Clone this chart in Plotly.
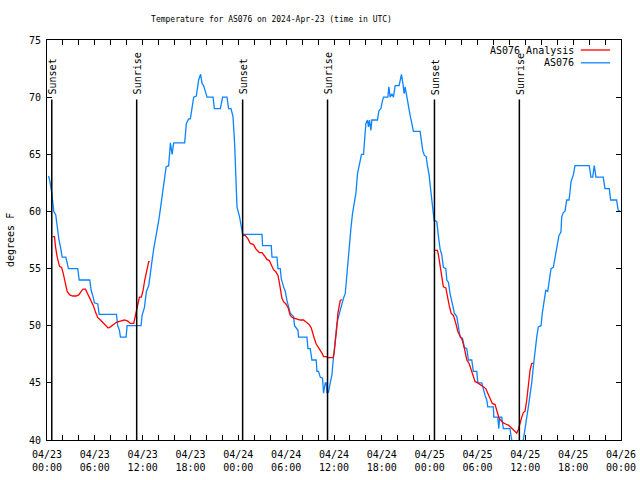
import plotly.graph_objects as go

# ---------------- data ----------------
title_text = "Temperature for AS076 on 2024-Apr-23 (time in UTC)"
y_title = "degrees F"
obs_name = "AS076"
ana_name = "AS076 Analysis"

# observed station temperature (hours after 2024-04-23 00:00 UTC, deg F)
obs_hours = [
    0.19, 0.35, 0.60, 0.69, 0.85, 1.10, 1.28, 1.48, 1.69, 1.82, 1.90, 2.36, 2.53, 2.69,
    3.86, 4.04, 5.36, 5.54, 5.79, 5.95, 6.37, 6.54, 8.71, 8.87, 9.09, 9.21, 9.92, 10.05,
    11.80, 11.93, 12.22, 12.47, 12.76, 12.97, 13.18, 13.38, 13.60, 13.81, 14.01, 14.22,
    14.64, 14.94, 15.26, 15.48, 15.69, 15.89, 17.27, 17.48, 17.77, 17.98, 18.40, 18.73,
    19.02, 19.27, 19.45, 19.65, 19.99, 20.08, 20.83, 20.99, 21.74, 22.03, 22.58, 22.78,
    23.08, 23.33, 23.53, 23.71, 23.83, 24.16, 24.46, 24.54, 26.97, 27.04, 28.13, 28.22,
    28.85, 28.97, 29.26, 29.39, 29.67, 29.89, 30.10, 30.30, 30.51, 30.93, 31.05, 31.48,
    31.55, 32.61, 32.73, 33.02, 33.23, 33.77, 33.86, 34.06, 34.27, 34.56, 34.69, 34.90,
    35.03, 35.11, 35.31, 35.53, 35.74, 35.86, 36.03, 36.15, 36.37, 36.57, 36.78, 36.99,
    37.19, 37.41, 37.62, 37.82, 38.12, 38.32, 38.53, 38.75, 38.95, 39.20, 39.45, 39.70,
    39.82, 40.00, 40.20, 40.33, 40.45, 40.63, 40.75, 41.45, 41.63, 41.88, 42.08, 42.21,
    42.76, 42.88, 43.05, 43.26, 43.46, 43.58, 43.67, 44.17, 44.30, 44.46, 44.64, 44.80,
    44.92, 45.05, 45.21, 45.34, 45.55, 45.76, 45.96, 46.80, 46.93, 47.14, 47.34, 47.56,
    47.72, 47.93, 48.06, 48.22, 48.40, 48.56, 48.68, 48.90, 49.10, 49.31, 49.52, 49.72,
    50.03, 50.15, 50.35, 50.56, 50.85, 51.10, 51.40, 51.60, 51.82, 52.11, 52.36, 52.66,
    52.86, 53.28, 53.48, 53.91, 54.04, 54.54, 54.74, 54.95, 55.16, 55.29, 55.99, 56.05,
    56.54, 56.67, 56.79, 57.04, 57.24, 58.08, 58.21, 58.46, 59.09, 59.59, 59.75, 59.96,
    60.18, 60.38, 60.59, 60.80, 61.00, 61.22, 61.43, 61.63, 61.97, 62.13, 62.38, 62.56,
    62.81, 62.97, 63.22, 63.51, 63.72, 63.93, 64.22, 64.47, 64.56, 64.76, 64.97, 65.19,
    65.48, 65.60, 65.73, 66.02, 66.23, 68.02, 68.23, 68.45, 68.65, 68.86, 69.77, 69.99,
    70.53, 70.70, 71.45, 71.65, 71.87,
]
obs_temp = [
    63.1, 62.7, 61.6, 61.0, 60.0, 59.7, 58.6, 57.6, 56.9, 56.4, 56.0, 56.0, 55.5, 55.0,
    55.0, 54.0, 54.0, 53.1, 52.5, 52.0, 51.9, 51.0, 51.0, 50.0, 49.6, 49.0, 49.0, 50.0,
    50.0, 50.9, 51.6, 53.0, 53.5, 54.8, 55.7, 56.7, 57.5, 58.3, 59.2, 60.2,
    62.4, 63.9, 64.0, 66.0, 65.0, 66.0, 66.0, 67.7, 68.1, 68.1, 70.0, 70.1,
    71.5, 72.0, 71.2, 71.0, 70.2, 70.0, 70.0, 69.0, 69.0, 70.0, 70.0, 69.0,
    69.0, 68.3, 66.0, 62.7, 60.4, 59.5, 58.3, 58.0, 58.0, 57.0, 57.0, 56.0,
    56.0, 55.0, 55.0, 54.1, 53.4, 53.0, 52.2, 51.5, 51.1, 50.8, 50.0, 49.6,
    49.0, 49.0, 48.0, 48.0, 47.0, 47.0, 46.0, 46.0, 45.5, 45.4, 44.1, 45.0,
    45.0, 44.1, 44.2, 45.0, 45.7, 46.7, 48.1, 49.0, 50.2, 50.8, 51.4, 52.0,
    52.4, 52.8, 54.6, 56.3, 58.5, 59.8, 60.7, 61.6, 63.3, 64.2, 65.0, 65.0,
    66.5, 67.7, 68.0, 67.4, 68.0, 67.1, 68.0, 68.0, 68.8, 69.0, 69.7, 70.0,
    70.0, 70.9, 70.0, 70.3, 70.0, 70.9, 71.0, 71.0, 71.6, 72.0, 71.2, 70.3,
    70.9, 70.3, 70.0, 69.1, 68.4, 67.7, 67.0, 67.0, 66.2, 65.3, 64.9, 64.8,
    64.0, 63.2, 62.3, 61.4, 60.4, 59.2, 59.2, 59.1, 57.8, 56.7, 56.2, 55.1,
    55.0, 54.0, 53.8, 52.8, 51.9, 51.1, 50.8, 50.0, 49.0, 48.9, 48.1, 48.0,
    47.0, 47.0, 46.0, 46.0, 45.0, 45.0, 44.4, 43.9, 43.5, 42.9, 42.9, 42.0,
    42.0, 41.0, 42.0, 42.0, 41.0, 41.0, 40.3, 39.5, 39.3, 39.6, 40.0, 41.2,
    42.0, 42.9, 43.8, 45.0, 46.4, 47.9, 49.0, 49.9, 50.0, 51.1, 52.5, 53.1,
    53.0, 54.0, 55.0, 55.1, 56.0, 57.0, 57.9, 58.2, 59.5, 59.9, 60.0, 61.0,
    61.0, 61.7, 62.6, 63.2, 64.0, 64.0, 63.0, 63.0, 64.0, 63.0, 63.0, 62.0,
    62.0, 61.0, 61.0, 60.1, 60.0,
]

# analysis temperature, three overnight segments
ana1_hours = [0.69, 0.94, 1.07, 1.28, 1.57, 1.82, 2.03, 2.32, 2.53, 2.86, 3.23, 3.66, 3.98,
              4.29, 4.54, 4.82, 5.11, 5.45, 5.79, 6.08, 6.37, 6.70, 6.99, 7.33, 7.67, 7.96,
              8.30, 8.71, 9.21, 9.71, 10.13, 10.46, 10.88, 11.09, 11.30, 11.59, 11.84, 12.05,
              12.26, 12.56, 12.76, 12.88]
ana1_temp = [57.8, 57.8, 56.9, 56.0, 55.2, 55.1, 54.6, 53.5, 53.0, 52.7, 52.6, 52.6, 52.7,
             53.0, 53.2, 53.2, 52.8, 52.2, 51.8, 51.2, 50.7, 50.5, 50.3, 50.0, 49.8, 49.9,
             50.1, 50.3, 50.4, 50.5, 50.4, 50.2, 50.2, 50.8, 51.6, 52.5, 52.5, 53.1,
             54.0, 55.1, 55.6, 55.6]
ana2_hours = [24.54, 24.87, 25.21, 25.50, 25.91, 26.22, 26.63, 26.97, 27.29, 27.59, 27.88,
              28.13, 28.42, 28.72, 28.97, 29.14, 29.35, 29.47, 29.67, 29.97, 30.23, 30.39,
              30.51, 30.80, 31.23, 31.77, 32.18, 32.48, 32.89, 33.15, 33.31, 33.52, 33.77,
              34.06, 34.27, 34.49, 34.69, 34.99, 35.31, 35.65, 35.90, 36.03, 36.15, 36.24,
              36.37, 36.49, 36.65, 36.78, 36.99]
ana2_temp = [57.9, 57.9, 57.6, 57.2, 57.1, 56.7, 56.4, 56.4, 56.1, 55.8, 55.7,
             55.3, 54.9, 54.7, 54.4, 53.8, 53.1, 52.4, 52.1, 51.9, 51.6, 51.2,
             50.9, 50.7, 50.6, 50.5, 50.5, 50.3, 50.1, 49.8, 49.3, 48.9, 48.4,
             48.1, 47.9, 47.6, 47.3, 47.3, 47.2, 47.2, 47.2, 47.7, 48.4, 49.3,
             50.0, 51.1, 51.8, 52.2, 52.3]
ana3_hours = [48.60, 48.97, 49.10, 49.31, 49.52, 49.72, 50.03, 50.23, 50.44, 50.69, 50.98,
              51.28, 51.53, 51.82, 52.11, 52.36, 52.66, 52.95, 53.20, 53.48, 53.70, 54.04,
              54.45, 54.74, 55.04, 55.29, 55.58, 55.86, 56.20, 56.42, 56.70, 56.95, 57.24,
              57.54, 57.87, 58.21, 58.50, 58.71, 58.92, 59.12, 59.25, 59.55, 59.75, 59.96,
              60.18, 60.38, 60.59, 60.80, 61.00]
ana3_temp = [56.6, 56.6, 56.2, 55.1, 54.1, 53.4, 53.3, 52.5, 51.8, 51.1, 50.9,
             50.2, 49.5, 49.1, 48.7, 48.0, 47.0, 46.7, 46.1, 45.5, 45.1, 45.0,
             44.8, 44.6, 44.5, 44.1, 43.6, 43.2, 43.1, 42.5, 41.9, 41.7, 41.5,
             41.4, 41.3, 41.1, 40.9, 40.7, 40.6, 40.9, 41.3, 42.0, 42.4, 42.5,
             43.5, 44.6, 46.1, 46.7, 46.7]

sunset_hours = [0.6, 24.54, 48.6]
sunrise_hours = [11.25, 35.19, 59.25]
sun_line_top = 69.8
sun_label_base = 70.04

x_tick_hours = list(range(0, 73, 2))
x_major_labels = {
    0: "04/23<br>00:00", 6: "04/23<br>06:00", 12: "04/23<br>12:00", 18: "04/23<br>18:00",
    24: "04/24<br>00:00", 30: "04/24<br>06:00", 36: "04/24<br>12:00", 42: "04/24<br>18:00",
    48: "04/25<br>00:00", 54: "04/25<br>06:00", 60: "04/25<br>12:00", 66: "04/25<br>18:00",
    72: "04/26<br>00:00",
}
y_ticks = [40, 45, 50, 55, 60, 65, 70, 75]

# ---------------- figure ----------------
FONT = "DejaVu Sans Mono"
BLUE = "#0a84ff"
RED = "#ff0000"

ana_x = ana1_hours + [None] + ana2_hours + [None] + ana3_hours
ana_y = ana1_temp + [None] + ana2_temp + [None] + ana3_temp

fig = go.Figure()
fig.add_trace(go.Scatter(x=obs_hours, y=obs_temp, mode="lines", name=obs_name,
                         line=dict(color=BLUE, width=1.3), showlegend=False))
fig.add_trace(go.Scatter(x=ana_x, y=ana_y, mode="lines", name=ana_name,
                         line=dict(color=RED, width=1.3), showlegend=False,
                         connectgaps=False))

shapes = []
annotations = []
for h in sunset_hours + sunrise_hours:
    shapes.append(dict(type="line", xref="x", yref="y", x0=h, x1=h, y0=40, y1=sun_line_top,
                       line=dict(color="black", width=1.5)))
for h in sunset_hours:
    annotations.append(dict(x=h, y=sun_label_base, xref="x", yref="y", text="Sunset",
                            textangle=-90, showarrow=False, xanchor="center", yanchor="bottom",
                            xshift=1, font=dict(family=FONT, size=10, color="black")))
for h in sunrise_hours:
    annotations.append(dict(x=h, y=sun_label_base, xref="x", yref="y", text="Sunrise",
                            textangle=-90, showarrow=False, xanchor="center", yanchor="bottom",
                            xshift=1, font=dict(family=FONT, size=10, color="black")))

# manual gnuplot-style legend (text then sample line)
legend_items = [(ana_name, RED, 0.975), (obs_name, BLUE, 0.943)]
for name, col, yp in legend_items:
    annotations.append(dict(x=0.921, y=yp, xref="paper", yref="paper", text=name,
                            showarrow=False, xanchor="right", yanchor="middle",
                            font=dict(family=FONT, size=10, color="black")))
    shapes.append(dict(type="line", xref="paper", yref="paper", x0=0.930, x1=0.981,
                       y0=yp, y1=yp, line=dict(color=col, width=1.3)))

# y axis title placed like gnuplot's
annotations.append(dict(x=(10 - 47) / 574.0, y=0.5, xref="paper", yref="paper", text=y_title,
                        textangle=-90, showarrow=False, xanchor="center", yanchor="middle",
                        font=dict(family=FONT, size=10, color="black")))

fig.update_layout(
    width=640, height=480,
    margin=dict(l=47, r=19, t=40, b=40, autoexpand=False),
    paper_bgcolor="white", plot_bgcolor="white",
    font=dict(family=FONT, size=10, color="black"),
    title=dict(text=title_text, x=271.5 / 640, xanchor="center", xref="container",
               y=1 - 19 / 480, yanchor="middle", yref="container",
               font=dict(family=FONT, size=8, color="black")),
    shapes=shapes, annotations=annotations,
    showlegend=False,
)
fig.update_xaxes(range=[0, 72], tickmode="array", tickvals=x_tick_hours,
                 ticktext=[x_major_labels.get(h, "") for h in x_tick_hours],
                 ticks="inside", ticklen=5, tickcolor="black", showline=True,
                 linecolor="black", linewidth=1, mirror="ticks", showgrid=False,
                 zeroline=False, automargin=False, ticklabelstandoff=5,
                 tickfont=dict(family=FONT, size=10))
fig.update_yaxes(range=[40, 75], tickmode="array", tickvals=y_ticks,
                 ticks="inside", ticklen=5, tickcolor="black", showline=True,
                 linecolor="black", linewidth=1, mirror="ticks", showgrid=False,
                 zeroline=False, automargin=False, ticklabelstandoff=3,
                 tickfont=dict(family=FONT, size=10))

fig.write_html("out.html", config={"displayModeBar": False},
               post_script="document.body.style.margin='0';")
